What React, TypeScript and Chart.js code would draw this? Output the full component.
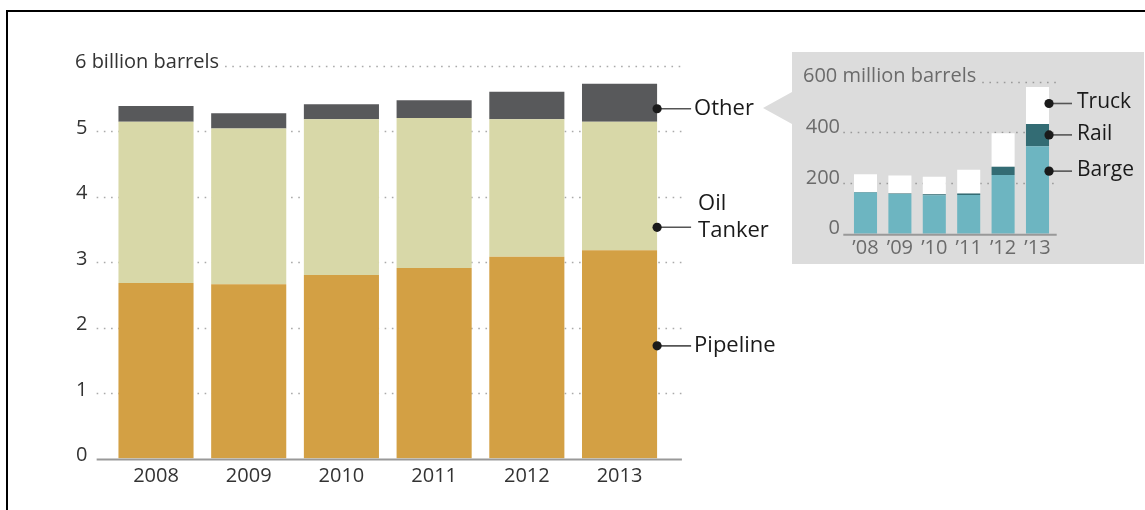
import React, { useEffect, useRef } from "react";
import { Chart, registerables } from "chart.js";

Chart.register(...registerables);

// ---- Main chart data (billion barrels) ----
const years = ["2008", "2009", "2010", "2011", "2012", "2013"];
const pipeline = [2.68, 2.66, 2.8, 2.91, 3.08, 3.18];
const oilTanker = [2.46, 2.38, 2.38, 2.29, 2.1, 1.96];
const other = [0.24, 0.23, 0.23, 0.27, 0.42, 0.58];
const mainTicks = [0, 1, 2, 3, 4, 5, 6];
const mainTopLabel = "6 billion barrels";

// ---- Inset chart data (million barrels) ----
const insetYears = ["\u201908", "\u201909", "\u201910", "\u201911", "\u201912", "\u201913"];
const barge = [163, 157, 152, 153, 232, 345];
const rail = [2, 2, 4, 6, 32, 88];
const truck = [70, 71, 69, 93, 133, 146];
const insetTicks = [0, 200, 400, 600];
const insetTopLabel = "600 million barrels";

const FONT = "'Open Sans', 'Noto Sans', sans-serif";

const axisDecor = {
  id: "axisDecor",
  beforeDatasetsDraw(chart: any, _args: any, opts: any) {
    const { ctx, chartArea, scales } = chart;
    const y = scales.y;
    const left = chartArea.left - opts.extendLeft;
    const right = chartArea.right + opts.extendRight;
    const ticks: number[] = opts.ticks;
    ctx.save();
    ctx.font = `${opts.fontSize}px ${FONT}`;
    ctx.textBaseline = "middle";
    ctx.fillStyle = opts.textColor;
    ticks.forEach((v, i) => {
      const py = y.getPixelForValue(v);
      const isTop = i === ticks.length - 1;
      let start = left;
      if (isTop) {
        ctx.textAlign = "left";
        ctx.fillText(opts.topLabel, opts.topX, py + opts.dy);
        start = opts.topX + ctx.measureText(opts.topLabel).width + 6;
      } else {
        ctx.textAlign = "right";
        ctx.fillText(String(v), opts.labelX, py + opts.dy);
      }
      if (v !== 0) {
        ctx.save();
        ctx.strokeStyle = opts.gridColor;
        ctx.lineWidth = 1.6;
        ctx.setLineDash([1.6, 5.6]);
        ctx.beginPath();
        ctx.moveTo(start, Math.round(py) + 0.5);
        ctx.lineTo(right, Math.round(py) + 0.5);
        ctx.stroke();
        ctx.restore();
      }
    });
    ctx.restore();
  },
  afterDatasetsDraw(chart: any, _args: any, opts: any) {
    const { ctx, chartArea, scales } = chart;
    const py = scales.y.getPixelForValue(0);
    ctx.save();
    ctx.strokeStyle = opts.axisColor;
    ctx.lineWidth = 2;
    ctx.beginPath();
    ctx.moveTo(chartArea.left - opts.extendLeft, py + 1);
    ctx.lineTo(chartArea.right + opts.extendRight, py + 1);
    ctx.stroke();
    ctx.restore();
  },
};

const segmentLabels = {
  id: "segmentLabels",
  afterDatasetsDraw(chart: any, _args: any, opts: any) {
    const { ctx, scales } = chart;
    const meta = chart.getDatasetMeta(0);
    const last: any = meta.data[meta.data.length - 1];
    const x = last.x + last.width / 2;
    ctx.save();
    ctx.font = `${opts.fontSize}px ${FONT}`;
    ctx.textBaseline = "middle";
    ctx.textAlign = "left";
    opts.items.forEach((item: any) => {
      const py = scales.y.getPixelForValue(item.at);
      ctx.strokeStyle = "#555";
      ctx.lineWidth = 1.6;
      ctx.beginPath();
      ctx.moveTo(x, py);
      ctx.lineTo(x + opts.lineLen, py);
      ctx.stroke();
      ctx.fillStyle = "#1a1a1a";
      ctx.beginPath();
      ctx.arc(x, py, 4.6, 0, Math.PI * 2);
      ctx.fill();
      const lines: string[] = item.text;
      const n = lines.length;
      lines.forEach((t, i) => {
        const ty = py - (n - 1 - i) * opts.lineHeight + (n > 1 ? 3 : 0) + opts.dy;
        ctx.fillText(t, x + opts.textGap + (n > 1 ? 4 : 0), ty);
      });
    });
    ctx.restore();
  },
};

export default function App() {
  const mainRef = useRef<HTMLCanvasElement>(null);
  const insetRef = useRef<HTMLCanvasElement>(null);

  useEffect(() => {
    const main = new Chart(mainRef.current!, {
      type: "bar",
      data: {
        labels: years,
        datasets: [
          { label: "Pipeline", data: pipeline, backgroundColor: "#D3A044", barPercentage: 0.81, categoryPercentage: 1 },
          { label: "Oil Tanker", data: oilTanker, backgroundColor: "#D8D8A8", barPercentage: 0.81, categoryPercentage: 1 },
          { label: "Other", data: other, backgroundColor: "#58595B", barPercentage: 0.81, categoryPercentage: 1 },
        ],
      },
      options: {
        animation: false,
        responsive: false,
        maintainAspectRatio: false,
        layout: { padding: { left: 109.65, right: 114.1, top: 65.5, bottom: 21.5 } },
        plugins: {
          legend: { display: false },
          tooltip: { enabled: false },
          axisDecor: {
            ticks: mainTicks,
            topLabel: mainTopLabel,
            topX: 75,
            labelX: 87.5,
            dy: -3,
            fontSize: 20,
            textColor: "#333",
            gridColor: "#aaa",
            axisColor: "#999",
            extendLeft: 13,
            extendRight: 16,
          },
          segmentLabels: {
            fontSize: 22,
            lineLen: 34,
            textGap: 37,
            lineHeight: 27,
            dy: 0,
            items: [
              { text: ["Other"], at: 5.34 },
              { text: ["Oil", "Tanker"], at: 3.53 },
              { text: ["Pipeline"], at: 1.72 },
            ],
          },
        } as any,
        scales: {
          x: {
            stacked: true,
            grid: { display: false, drawTicks: false },
            border: { display: false },
            ticks: { color: "#333", font: { family: FONT, size: 20 }, padding: 6, maxRotation: 0 },
            afterFit: (s: any) => {
              s.height = 30;
            },
          },
          y: { stacked: true, display: false, min: 0, max: 6 },
        },
      },
      plugins: [axisDecor, segmentLabels],
    });

    const inset = new Chart(insetRef.current!, {
      type: "bar",
      data: {
        labels: insetYears,
        datasets: [
          { label: "Barge", data: barge, backgroundColor: "#6DB5C1", barPercentage: 0.67, categoryPercentage: 1 },
          { label: "Rail", data: rail, backgroundColor: "#336C74", barPercentage: 0.67, categoryPercentage: 1 },
          { label: "Truck", data: truck, backgroundColor: "#FFFFFF", barPercentage: 0.67, categoryPercentage: 1 },
        ],
      },
      options: {
        animation: false,
        responsive: false,
        maintainAspectRatio: false,
        layout: { padding: { left: 56.3, right: 89.3, top: 29.7, bottom: 4.3 } },
        plugins: {
          legend: { display: false },
          tooltip: { enabled: false },
          axisDecor: {
            ticks: insetTicks,
            topLabel: insetTopLabel,
            topX: 11,
            labelX: 48,
            dy: -5,
            fontSize: 20,
            textColor: "#6b6b6b",
            gridColor: "#9a9a9a",
            axisColor: "#999",
            extendLeft: 5,
            extendRight: 2,
          },
          segmentLabels: {
            fontSize: 21,
            lineLen: 23,
            textGap: 28,
            lineHeight: 26,
            dy: -1,
            items: [
              { text: ["Truck"], at: 514 },
              { text: ["Rail"], at: 390 },
              { text: ["Barge"], at: 247 },
            ],
          },
        } as any,
        scales: {
          x: {
            stacked: true,
            grid: { display: false, drawTicks: false },
            border: { display: false },
            ticks: { color: "#6b6b6b", font: { family: FONT, size: 20 }, padding: 3, maxRotation: 0, autoSkip: false },
            afterFit: (s: any) => {
              s.height = 26;
            },
          },
          y: { stacked: true, display: false, min: 0, max: 600 },
        },
      },
      plugins: [axisDecor, segmentLabels],
    });

    return () => {
      main.destroy();
      inset.destroy();
    };
  }, []);

  return (
    <div
      style={{
        position: "fixed",
        left: 0,
        top: 0,
        width: 1145,
        height: 510,
        overflow: "hidden",
        background: "#fff",
      }}
    >
      <div
        style={{
          position: "absolute",
          left: 6,
          top: 10,
          width: 1300,
          height: 700,
          border: "2px solid #000",
          boxSizing: "border-box",
        }}
      />
      <canvas
        ref={mainRef}
        width={780}
        height={510}
        style={{ position: "absolute", left: 0, top: 0, width: 780, height: 510 }}
      />
      <div
        style={{
          position: "absolute",
          left: 763,
          top: 92,
          width: 0,
          height: 0,
          borderTop: "16.5px solid transparent",
          borderBottom: "16.5px solid transparent",
          borderRight: "29px solid #DCDCDC",
        }}
      />
      <div
        style={{
          position: "absolute",
          left: 792,
          top: 52,
          width: 352,
          height: 212,
          background: "#DCDCDC",
        }}
      />
      <canvas
        ref={insetRef}
        width={352}
        height={212}
        style={{ position: "absolute", left: 792, top: 52, width: 352, height: 212 }}
      />
    </div>
  );
}
